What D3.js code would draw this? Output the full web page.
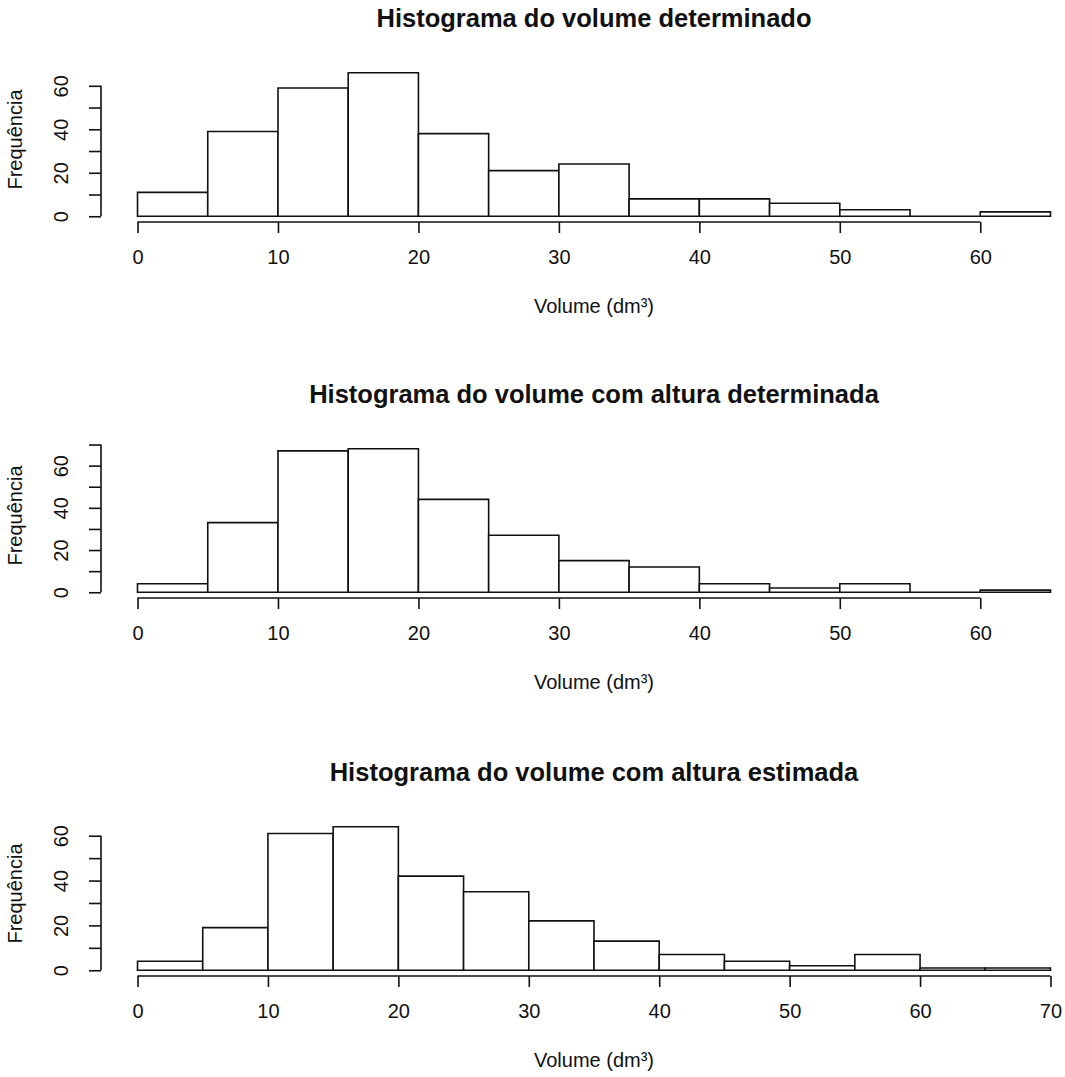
<!DOCTYPE html>
<html>
<head>
<meta charset="utf-8">
<script src="https://cdn.jsdelivr.net/npm/d3@7"></script>
<style>
  body { margin: 0; background: #fff; }
  svg { display: block; font-family: "Liberation Sans", Arial, sans-serif; }
</style>
</head>
<body>
<svg id="chart" width="1065" height="1077"></svg>
<script>
// bin edges and counts
const breaksA = [0, 5, 10, 15, 20, 25, 30, 35, 40, 45, 50, 55, 60, 65];
const countsDeterminado = [11, 39, 59, 66, 38, 21, 24, 8, 8, 6, 3, 0, 2];
const countsAlturaDet = [4, 33, 67, 68, 44, 27, 15, 12, 4, 2, 4, 0, 1];
const breaksB = [0, 5, 10, 15, 20, 25, 30, 35, 40, 45, 50, 55, 60, 65, 70];
const countsAlturaEst = [4, 19, 61, 64, 42, 35, 22, 13, 7, 4, 2, 7, 1, 1];

const titles = [
    'Histograma do volume determinado',
    'Histograma do volume com altura determinada',
    'Histograma do volume com altura estimada'
];
const xTicksA = [0, 10, 20, 30, 40, 50, 60];
const xTicksB = [0, 10, 20, 30, 40, 50, 60, 70];
const xLabel = 'Volume (dm³)';
const yLabel = 'Frequência';

const panels = [
    { title: titles[0], breaks: breaksA, counts: countsDeterminado, xTicks: xTicksA },
    { title: titles[1], breaks: breaksA, counts: countsAlturaDet, xTicks: xTicksA },
    { title: titles[2], breaks: breaksB, counts: countsAlturaEst, xTicks: xTicksB }
];

const svg = d3.select('#chart');
const plotLeft = 101, plotRight = 1087, plotH = 155;
const plotBottoms = [222, 598, 976];
const ink = '#111';

panels.forEach((p, i) => {
    const bottom = plotBottoms[i];
    const top = bottom - plotH;
    const lo = p.breaks[0], hi = p.breaks[p.breaks.length - 1];
    const maxC = d3.max(p.counts);

    // R style 4% padding on both axes
    const xScale = d3.scaleLinear()
        .domain([lo - 0.04 * (hi - lo), hi + 0.04 * (hi - lo)])
        .range([plotLeft, plotRight]);
    const yScale = d3.scaleLinear()
        .domain([-0.04 * maxC, 1.04 * maxC])
        .range([bottom, top]);

    const g = svg.append('g');

    const bins = p.counts.map((c, k) => ({ x0: p.breaks[k], x1: p.breaks[k + 1], n: c }));

    // paths instead of rects so empty bins still show a flat outline
    g.selectAll('path.bar')
        .data(bins)
        .enter()
        .append('path')
        .attr('class', 'bar')
        .attr('d', d => `M${xScale(d.x0)},${yScale(0)}V${yScale(d.n)}H${xScale(d.x1)}V${yScale(0)}Z`)
        .attr('fill', '#fff')
        .attr('stroke', ink)
        .attr('stroke-width', 1.6);

    // x axis: line only between first and last tick, like R
    const xAxis = g.append('g')
        .attr('transform', `translate(0,${bottom})`)
        .call(d3.axisBottom(xScale).tickValues(p.xTicks).tickSize(11).tickSizeOuter(0));
    xAxis.select('.domain').remove();
    xAxis.append('line')
        .attr('x1', xScale(p.xTicks[0]))
        .attr('x2', xScale(p.xTicks[p.xTicks.length - 1]))
        .attr('stroke', ink)
        .attr('stroke-width', 1.6);
    xAxis.selectAll('.tick line').attr('stroke', ink).attr('stroke-width', 1.6);
    xAxis.selectAll('.tick text')
        .attr('y', 42)
        .attr('dy', 0)
        .attr('fill', ink)
        .style('font-size', '20px');

    // y axis: ticks every 10 inside the padded range, labels every 20
    const yMax = yScale.domain()[1];
    const yTicks = d3.range(0, yMax + 0.001, 10);
    const yAxis = g.append('g')
        .attr('transform', `translate(${plotLeft},0)`)
        .call(d3.axisLeft(yScale).tickValues(yTicks).tickSize(12).tickSizeOuter(0)
            .tickFormat(d => d % 20 === 0 ? d : ''));
    yAxis.select('.domain').remove();
    yAxis.append('line')
        .attr('y1', yScale(0))
        .attr('y2', yScale(yTicks[yTicks.length - 1]))
        .attr('stroke', ink)
        .attr('stroke-width', 1.6);
    yAxis.selectAll('.tick line').attr('stroke', ink).attr('stroke-width', 1.6);
    yAxis.selectAll('.tick text')
        .attr('transform', 'rotate(-90)')
        .attr('x', 0)
        .attr('y', -33)
        .attr('dy', 0)
        .attr('text-anchor', 'middle')
        .attr('fill', ink)
        .style('font-size', '20px');

    const midX = (plotLeft + plotRight) / 2;

    g.append('text')
        .attr('x', midX)
        .attr('y', bottom - 195)
        .attr('text-anchor', 'middle')
        .style('font-size', '25.5px')
        .style('font-weight', 'bold')
        .attr('fill', ink)
        .text(p.title);

    g.append('text')
        .attr('x', midX)
        .attr('y', bottom + 91)
        .attr('text-anchor', 'middle')
        .style('font-size', '20px')
        .attr('fill', ink)
        .text(xLabel);

    g.append('text')
        .attr('transform', `translate(22,${(top + bottom) / 2 - 5}) rotate(-90)`)
        .attr('text-anchor', 'middle')
        .style('font-size', '20px')
        .attr('fill', ink)
        .text(yLabel);
});
</script>
</body>
</html>
